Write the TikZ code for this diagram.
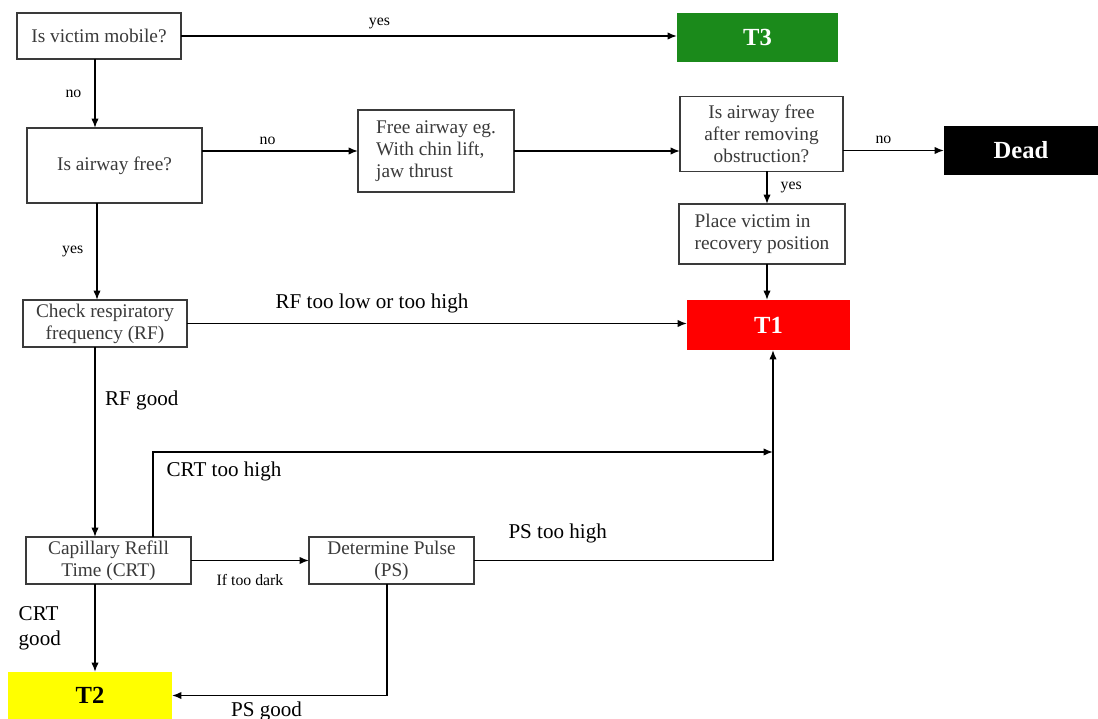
\documentclass[tikz,border=0pt]{standalone}
\usepackage{fontspec}
\setmainfont{Liberation Serif}
\usetikzlibrary{arrows.meta, positioning, calc}
\definecolor{trGreen}{HTML}{1B8A1B}
\definecolor{trRed}{HTML}{FF0000}
\definecolor{trYellow}{HTML}{FFFF00}
\definecolor{trGray}{HTML}{3A3A3A}

\begin{document}
\begin{tikzpicture}[x=0.02cm, y=-0.02cm,
  box/.style={draw=trGray, line width=0.9pt, fill=white, text=trGray, inner sep=0pt, outer sep=0pt, align=center, font=\fontsize{11}{12.5}\selectfont},
  tag/.style={inner sep=0pt, outer sep=0pt, font=\fontsize{14}{16}\selectfont\bfseries, text=white},
  e/.style={-{Latex[length=1.9mm, width=1.5mm]}, line width=0.9pt},
  lbl/.style={font=\fontsize{9}{10}\selectfont},
  big/.style={font=\fontsize{12}{14}\selectfont}]
  \useasboundingbox (0,0) rectangle (1098,719);
  % boxes
  \node[box, minimum width=3.28cm, minimum height=0.92cm](mobile) at (99,36) {Is victim mobile?};
  \node[tag, fill=trGreen, minimum width=3.22cm, minimum height=0.98cm](T3) at (757.5,37.5) {T3};
  \node[box, minimum width=3.5cm, minimum height=1.5cm](airway) at (114.5,165.5) {Is airway free?};
  \node[box, align=left, minimum width=3.12cm, minimum height=1.64cm](freeair) at (436,151) {Free airway eg.\\With chin lift,\\jaw thrust};
  \node[box, minimum width=3.26cm, minimum height=1.5cm](afterobs) at (761.5,134) {Is airway free\\after removing\\obstruction?};
  \node[tag, fill=black, minimum width=3.08cm, minimum height=0.98cm](dead) at (1021,150.5) {Dead};
  \node[box, align=left, minimum width=3.32cm, minimum height=1.2cm](place) at (762,234) {Place victim in\\recovery position};
  \node[tag, fill=trRed, minimum width=3.26cm, minimum height=1.0cm](T1) at (768.5,325) {T1};
  \node[box, minimum width=3.28cm, minimum height=0.94cm](rf) at (105,323.5) {Check respiratory\\frequency (RF)};
  \node[box, minimum width=3.3cm, minimum height=0.94cm](crt) at (108.5,560.5) {Capillary Refill\\Time (CRT)};
  \node[box, minimum width=3.3cm, minimum height=0.94cm](ps) at (391.5,560.5) {Determine Pulse\\(PS)};
  \node[tag, fill=trYellow, text=black, minimum width=3.28cm, minimum height=0.94cm](T2) at (90,695.5) {T2};
  % anchors for the vertical lines
  \coordinate (m1) at ($(mobile.south)+(-4,0)$);
  \coordinate (a1) at ($(airway.south)+(-17.5,0)$);
  \coordinate (r1) at ($(rf.south)+(-10,0)$);
  \coordinate (c1) at ($(crt.south)+(-13.5,0)$);
  \coordinate (o1) at ($(afterobs.south)+(5.5,0)$);
  \coordinate (p1) at ($(place.south)+(5,0)$);
  \coordinate (tj) at ($(T1.south)+(4.5,102)$);
  % connectors
  \draw[e](mobile) -- (mobile -| T3.west) node[pos=0.4, above, lbl]{yes};
  \draw[e](m1) -- (m1 |- airway.north) node[midway, left=4pt, lbl]{no};
  \draw[e](freeair.west -| airway.east) -- (freeair.west) node[pos=0.42, above, lbl]{no};
  \draw[e](freeair.east) -- (freeair.east -| afterobs.west);
  \draw[e](dead.west -| afterobs.east) -- (dead.west) node[pos=0.4, above, lbl]{no};
  \draw[e](o1) -- (o1 |- place.north) node[midway, right=4pt, lbl]{yes};
  \draw[e](p1) -- (p1 |- T1.north);
  \draw[e](a1) -- (a1 |- rf.north) node[midway, left=4pt, lbl]{yes};
  \draw[e](rf.east) -- (rf.east -| T1.west) node[pos=0.37, above=2pt, big]{RF too low or too high};
  \draw[e](r1) -- (r1 |- crt.north) node[pos=0.28, right=2pt, big]{RF good};
  \draw[e]($(crt.north)+(44.5,0)$) |- (tj) node[pos=0.5, below right=2pt and 4pt, big]{CRT too high};
  \draw[e](crt.east) -- (crt.east -| ps.west) node[midway, below=4pt, lbl]{If too dark};
  \draw[e](ps.east) -| ($(T1.south)+(4.5,0)$) node[pos=0.14, above=6pt, big]{PS too high};
  \draw[e]($(ps.south)+(-4.5,0)$) |- (T2.east) node[pos=0.78, below=0pt, big]{PS good};
  \draw[e](c1) -- (c1 |- T2.north) node[midway, left=0.55cm, big, align=left]{CRT\\good};
\end{tikzpicture}
\end{document}
